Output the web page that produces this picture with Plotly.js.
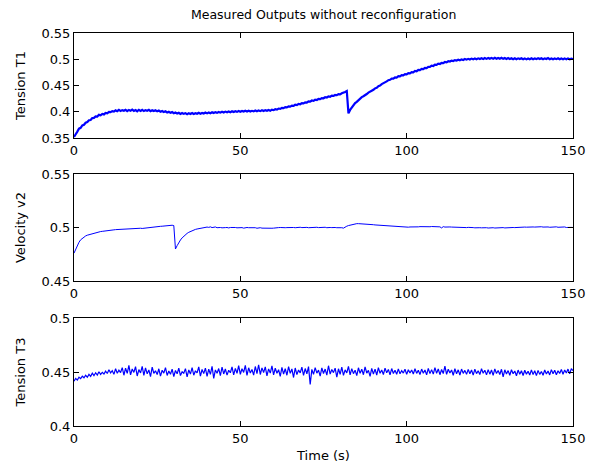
<!DOCTYPE html>
<html>
<head>
<meta charset="utf-8">
<script src="https://cdn.plot.ly/plotly-3.0.1.min.js"></script>
<style>html,body{margin:0;padding:0;background:#fff;}#chart{width:594px;height:471px;}</style>
</head>
<body>
<div id="chart"></div>
<script>
// Sample interval of the recorded signals (s)
const sampleStep = 0.5;

// Tension T1 (sampled every 0.5 s, t = 0 .. 150)
const tensionT1 = [
0.3520,0.3585,0.3622,0.3678,0.3694,0.3741,0.3752,0.3791,0.3803,0.3838,
0.3842,0.3879,0.3883,0.3912,0.3908,0.3941,0.3932,0.3958,0.3949,0.3978,
0.3971,0.3998,0.3992,0.4012,0.4003,0.4026,0.4011,0.4035,0.4016,0.4031,
0.4018,0.4037,0.4012,0.4034,0.4019,0.4040,0.4015,0.4033,0.4010,0.4038,
0.4017,0.4035,0.4013,0.4031,0.4020,0.4036,0.4011,0.4029,0.4014,0.4027,
0.4008,0.4022,0.4001,0.4015,0.3994,0.4008,0.3987,0.3999,0.3979,0.3993,
0.3972,0.3986,0.3965,0.3981,0.3958,0.3976,0.3960,0.3974,0.3955,0.3972,
0.3959,0.3977,0.3957,0.3973,0.3961,0.3980,0.3963,0.3978,0.3966,0.3984,
0.3969,0.3986,0.3972,0.3990,0.3975,0.3993,0.3979,0.3996,0.3983,0.3999,
0.3987,0.4003,0.3989,0.4006,0.3992,0.4009,0.3995,0.4011,0.3998,0.4014,
0.4001,0.4016,0.4003,0.4019,0.4005,0.4021,0.4004,0.4018,0.4007,0.4024,
0.4009,0.4026,0.4012,0.4029,0.4015,0.4031,0.4018,0.4035,0.4021,0.4040,
0.4030,0.4048,0.4041,0.4061,0.4054,0.4075,0.4069,0.4088,0.4083,0.4102,
0.4098,0.4118,0.4112,0.4133,0.4127,0.4149,0.4143,0.4165,0.4159,0.4180,
0.4176,0.4197,0.4192,0.4214,0.4208,0.4229,0.4224,0.4245,0.4240,0.4260,
0.4257,0.4277,0.4271,0.4292,0.4286,0.4306,0.4301,0.4320,0.4315,0.4336,
0.4331,0.4352,0.4360,0.4378,0.4395,0.3970,0.4035,0.4082,0.4118,0.4165,
0.4188,0.4225,0.4247,0.4279,0.4296,0.4325,0.4338,0.4364,0.4378,0.4405,
0.4418,0.4446,0.4458,0.4487,0.4498,0.4526,0.4539,0.4565,0.4578,0.4601,
0.4608,0.4632,0.4631,0.4656,0.4652,0.4677,0.4673,0.4697,0.4692,0.4716,
0.4712,0.4737,0.4733,0.4756,0.4752,0.4777,0.4772,0.4796,0.4793,0.4816,
0.4812,0.4837,0.4833,0.4856,0.4853,0.4877,0.4872,0.4896,0.4892,0.4915,
0.4910,0.4932,0.4926,0.4948,0.4941,0.4962,0.4956,0.4975,0.4966,0.4984,
0.4976,0.4992,0.4982,0.4998,0.4987,0.5004,0.4992,0.5008,0.4996,0.5012,
0.4998,0.5014,0.5001,0.5017,0.5003,0.5020,0.5005,0.5022,0.5007,0.5024,
0.5008,0.5026,0.5010,0.5027,0.5009,0.5025,0.5011,0.5028,0.5008,0.5024,
0.5006,0.5022,0.5004,0.5020,0.5002,0.5019,0.5001,0.5017,0.5003,0.5018,
0.5000,0.5016,0.4998,0.5015,0.5001,0.5017,0.4999,0.5014,0.5002,0.5018,
0.5003,0.5020,0.5001,0.5017,0.5005,0.5022,0.5002,0.5016,0.5000,0.5015,
0.5002,0.5018,0.4999,0.5014,0.5001,0.5016,0.4998,0.5013,0.5000,0.5012,
0.5004];

// Velocity v2 (sampled every 0.5 s, t = 0 .. 150)
const velocityV2 = [
0.4760,0.4800,0.4836,0.4862,0.4885,0.4900,0.4912,0.4921,0.4928,0.4933,
0.4938,0.4943,0.4947,0.4951,0.4955,0.4958,0.4962,0.4964,0.4967,0.4969,
0.4971,0.4973,0.4975,0.4977,0.4978,0.4980,0.4981,0.4984,0.4986,0.4985,
0.4987,0.4989,0.4990,0.4992,0.4989,0.4990,0.4993,0.4992,0.4991,0.4992,
0.4993,0.4991,0.4993,0.4998,0.5002,0.5001,0.5003,0.5004,0.5006,0.5005,
0.5008,0.5009,0.5011,0.5012,0.5014,0.5016,0.5018,0.5022,0.5024,0.5021,
0.5018,0.4799,0.4830,0.4860,0.4883,0.4903,0.4920,0.4933,0.4945,0.4955,
0.4963,0.4970,0.4976,0.4982,0.4986,0.4990,0.4993,0.4997,0.5002,0.5000,
0.5004,0.5001,0.5006,0.4999,0.5003,0.5005,0.4998,0.5002,0.5000,0.4997,
0.5001,0.4999,0.5000,0.4996,0.5000,0.5001,0.4999,0.5000,0.4997,0.5000,
0.5000,0.4999,0.4994,0.4999,0.5000,0.4998,0.4999,0.4996,0.5000,0.4998,
0.4993,0.4996,0.4998,0.4994,0.4993,0.4996,0.4992,0.4994,0.4995,0.4993,
0.4994,0.4998,0.4996,0.4999,0.5000,0.4997,0.5001,0.4998,0.4999,0.5001,
0.4999,0.5001,0.5000,0.4998,0.5001,0.5000,0.5002,0.4999,0.5001,0.5000,
0.5001,0.4998,0.5000,0.5003,0.5001,0.5000,0.5002,0.4999,0.5001,0.4997,
0.5000,0.5002,0.4998,0.5001,0.5000,0.4999,0.5002,0.5000,0.4998,0.5000,
0.4995,0.4998,0.4994,0.5006,0.5012,0.5018,0.5022,0.5028,0.5033,0.5035,
0.5036,0.5036,0.5035,0.5036,0.5035,0.5030,0.5034,0.5031,0.5034,0.5032,
0.5026,0.5024,0.5023,0.5020,0.5018,0.5016,0.5014,0.5012,0.5011,0.5010,
0.5009,0.5008,0.5007,0.5005,0.5006,0.5004,0.5003,0.5004,0.5002,0.5003,
0.5002,0.5003,0.5005,0.5004,0.5006,0.5005,0.5007,0.5006,0.5008,0.5007,
0.5008,0.5009,0.5008,0.5008,0.5007,0.5009,0.5008,0.5006,0.5008,0.5007,
0.5006,0.4996,0.5008,0.5004,0.5006,0.5003,0.5005,0.5004,0.5003,0.5005,
0.5002,0.5004,0.5001,0.5003,0.5000,0.5002,0.4999,0.5001,0.4998,0.5000,
0.4999,0.4997,0.4999,0.4996,0.4998,0.4997,0.4999,0.4996,0.4998,0.4995,
0.4997,0.4996,0.4998,0.4995,0.4997,0.4996,0.4998,0.4997,0.4999,0.4996,
0.4998,0.4997,0.4999,0.4998,0.5000,0.4999,0.5001,0.5000,0.5002,0.5003,
0.5002,0.5004,0.5003,0.5005,0.5004,0.5003,0.5005,0.5004,0.5006,0.5003,
0.5005,0.5007,0.5004,0.5006,0.5003,0.5005,0.5002,0.5004,0.5001,0.5003,
0.5006,0.5002,0.5004,0.5001,0.5003,0.5005,0.5000,0.5002,0.4999,0.5001,
0.5000];

// Tension T3 (sampled every 0.5 s, t = 0 .. 150)
const tensionT3 = [
0.4415,0.4440,0.4425,0.4452,0.4438,0.4461,0.4447,0.4470,0.4452,0.4478,
0.4460,0.4489,0.4466,0.4493,0.4471,0.4502,0.4478,0.4496,0.4481,0.4508,
0.4486,0.4521,0.4492,0.4512,0.4478,0.4530,0.4489,0.4517,0.4495,0.4541,
0.4470,0.4535,0.4488,0.4562,0.4474,0.4528,0.4496,0.4549,0.4463,0.4522,
0.4491,0.4553,0.4469,0.4538,0.4483,0.4519,0.4457,0.4545,0.4487,0.4512,
0.4476,0.4530,0.4462,0.4516,0.4490,0.4541,0.4468,0.4509,0.4479,0.4527,
0.4458,0.4514,0.4483,0.4535,0.4467,0.4502,0.4488,0.4531,0.4455,0.4519,
0.4481,0.4540,0.4470,0.4511,0.4492,0.4548,0.4462,0.4523,0.4485,0.4536,
0.4459,0.4527,0.4478,0.4553,0.4441,0.4519,0.4489,0.4532,0.4466,0.4545,
0.4482,0.4528,0.4471,0.4516,0.4493,0.4547,0.4474,0.4534,0.4488,0.4558,
0.4479,0.4531,0.4496,0.4562,0.4468,0.4539,0.4491,0.4524,0.4472,0.4551,
0.4484,0.4567,0.4477,0.4538,0.4495,0.4548,0.4465,0.4529,0.4490,0.4556,
0.4473,0.4535,0.4488,0.4521,0.4459,0.4543,0.4481,0.4530,0.4470,0.4549,
0.4487,0.4528,0.4449,0.4537,0.4476,0.4519,0.4492,0.4545,0.4468,0.4532,
0.4483,0.4550,0.4385,0.4524,0.4478,0.4541,0.4489,0.4518,0.4462,0.4539,
0.4486,0.4527,0.4471,0.4558,0.4480,0.4523,0.4494,0.4536,0.4452,0.4530,
0.4479,0.4545,0.4468,0.4520,0.4491,0.4553,0.4473,0.4531,0.4485,0.4517,
0.4466,0.4539,0.4487,0.4526,0.4475,0.4548,0.4490,0.4515,0.4459,0.4534,
0.4481,0.4527,0.4472,0.4541,0.4488,0.4519,0.4477,0.4536,0.4492,0.4524,
0.4474,0.4532,0.4486,0.4517,0.4479,0.4529,0.4483,0.4513,0.4490,0.4526,
0.4478,0.4521,0.4491,0.4518,0.4482,0.4530,0.4487,0.4516,0.4476,0.4527,
0.4489,0.4519,0.4473,0.4534,0.4485,0.4522,0.4480,0.4541,0.4488,0.4528,
0.4475,0.4523,0.4486,0.4555,0.4479,0.4526,0.4491,0.4518,0.4470,0.4530,
0.4484,0.4520,0.4472,0.4527,0.4487,0.4515,0.4478,0.4524,0.4483,0.4519,
0.4471,0.4526,0.4485,0.4512,0.4476,0.4530,0.4488,0.4517,0.4473,0.4522,
0.4480,0.4519,0.4469,0.4528,0.4486,0.4514,0.4477,0.4525,0.4455,0.4520,
0.4482,0.4513,0.4470,0.4521,0.4484,0.4509,0.4465,0.4518,0.4479,0.4512,
0.4468,0.4516,0.4480,0.4507,0.4472,0.4520,0.4476,0.4511,0.4466,0.4515,
0.4478,0.4505,0.4470,0.4518,0.4481,0.4509,0.4473,0.4522,0.4484,0.4516,
0.4475,0.4512,0.4487,0.4524,0.4479,0.4518,0.4490,0.4527,0.4483,0.4531,
0.4512];

// Axis ticks and labels
const xTicks = [0, 50, 100, 150];
const xTickText = ['0', '50', '100', '150'];
const y1Ticks = [0.35, 0.4, 0.45, 0.5, 0.55];
const y1TickText = ['0.35', '0.4', '0.45', '0.5', '0.55'];
const y2Ticks = [0.45, 0.5, 0.55];
const y2TickText = ['0.45', '0.5', '0.55'];
const y3Ticks = [0.4, 0.45, 0.5];
const y3TickText = ['0.4', '0.45', '0.5'];

const chartTitle = 'Measured Outputs without reconfiguration';
const xTitle = 'Time (s)';
const yTitles = ['Tension T1', 'Velocity v2', 'Tension T3'];

const timeOf = arr => arr.map((_, i) => i * sampleStep);

const blue = '#0000ff';
const traces = [
  {x: timeOf(tensionT1), y: tensionT1, type: 'scatter', mode: 'lines', xaxis: 'x', yaxis: 'y',
   line: {color: blue, width: 2.2}, hoverinfo: 'skip'},
  {x: timeOf(velocityV2), y: velocityV2, type: 'scatter', mode: 'lines', xaxis: 'x2', yaxis: 'y2',
   line: {color: blue, width: 1}, hoverinfo: 'skip'},
  {x: timeOf(tensionT3), y: tensionT3, type: 'scatter', mode: 'lines', xaxis: 'x3', yaxis: 'y3',
   line: {color: blue, width: 1.2}, hoverinfo: 'skip'}
];

const fontFam = 'DejaVu Sans, Verdana, sans-serif';
function xAxis(anchor) {
  return {
    anchor: anchor, domain: [0, 1], range: [0, 150],
    tickmode: 'array', tickvals: xTicks, ticktext: xTickText,
    ticks: 'inside', ticklen: 5, tickcolor: '#000', tickwidth: 1,
    showline: true, linecolor: '#000', linewidth: 1, mirror: 'ticks',
    showgrid: false, zeroline: false,
    tickfont: {family: fontFam, size: 13, color: '#000'}
  };
}
function yAxis(anchor, domain, range, tv, tt, title) {
  return {
    anchor: anchor, domain: domain, range: range,
    tickmode: 'array', tickvals: tv, ticktext: tt,
    ticks: 'inside', ticklen: 5, tickcolor: '#000', tickwidth: 1,
    showline: true, linecolor: '#000', linewidth: 1, mirror: 'ticks',
    showgrid: false, zeroline: false,
    tickfont: {family: fontFam, size: 13, color: '#000'},
    title: {text: title, font: {family: fontFam, size: 13, color: '#000'}, standoff: 12}
  };
}

const layout = {
  width: 594, height: 471,
  margin: {l: 74, r: 21, t: 33, b: 45},
  paper_bgcolor: '#fff', plot_bgcolor: '#fff',
  showlegend: false,
  title: {text: chartTitle, font: {family: fontFam, size: 12.5, color: '#000'},
          x: 0.5449, xanchor: 'center', y: 0.968, yanchor: 'middle'},
  xaxis: xAxis('y'),
  yaxis: yAxis('x', [0.7328, 1], [0.35, 0.55], y1Ticks, y1TickText, yTitles[0]),
  xaxis2: xAxis('y2'),
  yaxis2: yAxis('x2', [0.369, 0.6412], [0.45, 0.55], y2Ticks, y2TickText, yTitles[1]),
  xaxis3: Object.assign(xAxis('y3'), {title: {text: xTitle, font: {family: fontFam, size: 13, color: '#000'}, standoff: 6}}),
  yaxis3: yAxis('x3', [0, 0.2748], [0.4, 0.5], y3Ticks, y3TickText, yTitles[2])
};

Plotly.newPlot('chart', traces, layout, {staticPlot: true, displayModeBar: false});
</script>
</body>
</html>
